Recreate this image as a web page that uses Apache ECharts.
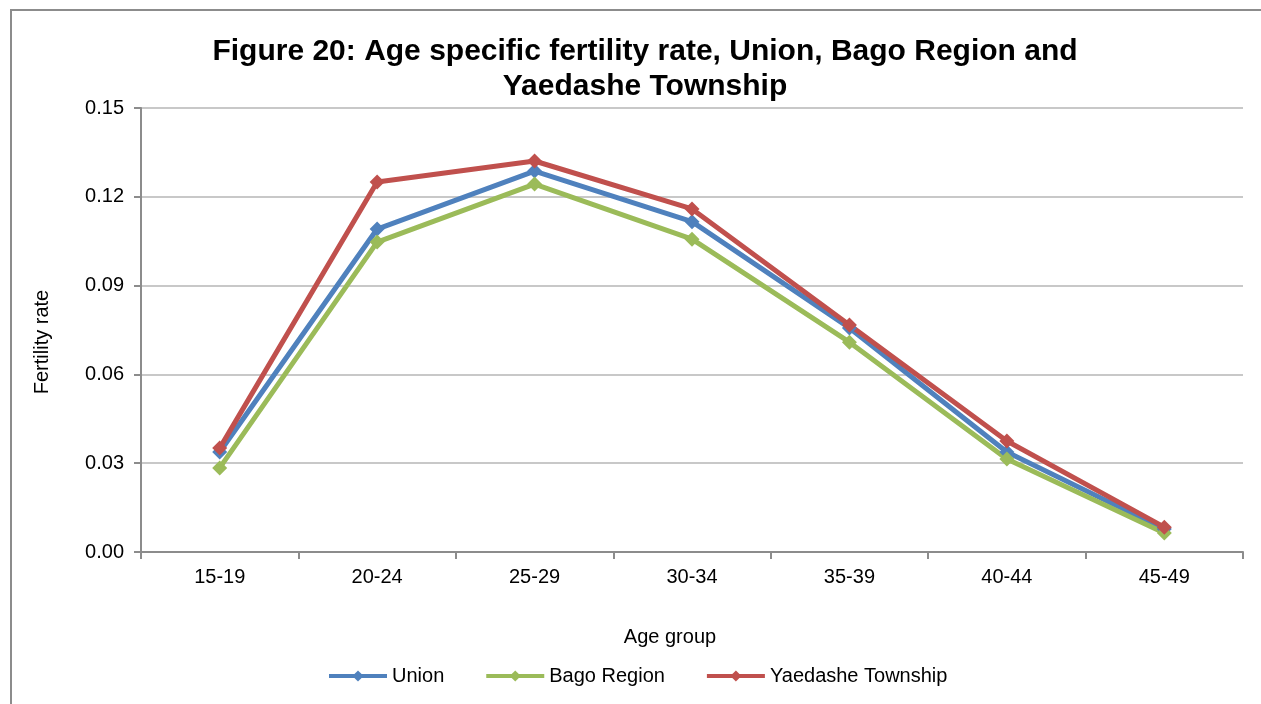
<!DOCTYPE html>
<html>
<head>
<meta charset="utf-8">
<script src="https://cdn.jsdelivr.net/npm/echarts@6/dist/echarts.min.js"></script>
<style>
html,body{margin:0;padding:0;background:#fff;}
#c{width:1261px;height:704px;}
</style>
</head>
<body>
<div id="c"></div>
<script>
const categories = ['15-19','20-24','25-29','30-34','35-39','40-44','45-49'];
const union = [0.0338, 0.1091, 0.1287, 0.1116, 0.0757, 0.0338, 0.0078];
const bago = [0.0284, 0.1047, 0.1243, 0.1057, 0.0709, 0.0314, 0.0064];
const yaedashe = [0.0351, 0.1250, 0.1321, 0.1159, 0.0767, 0.0375, 0.0084];
const yTicks = [0, 0.03, 0.06, 0.09, 0.12, 0.15];

const font = 'Liberation Sans, Arial, sans-serif';
const chart = echarts.init(document.getElementById('c'), null, {renderer:'canvas'});

function mk(name, data, color){
  return {
    name, type:'line', data,
    symbol:'diamond', symbolSize:15,
    lineStyle:{width:5,color},
    itemStyle:{color},
    emphasis:{disabled:true},
    animation:false
  };
}

chart.setOption({
  animation:false,
  backgroundColor:'#fff',
  graphic:[
    {type:'rect', shape:{x:11,y:10,width:1300,height:800},
     style:{fill:'none',stroke:'#8c8c8c',lineWidth:2}, silent:true, z:-1},
    {type:'text', x:42, y:342, rotation:Math.PI/2,
     style:{text:'Fertility rate', fill:'#000', font:'20px ' + font, textAlign:'center', textVerticalAlign:'middle'}},
    {type:'text', x:670, y:637,
     style:{text:'Age group', fill:'#000', font:'20px ' + font, textAlign:'center', textVerticalAlign:'middle'}}
  ],
  title:{
    text:'Figure 20: Age specific fertility rate, Union, Bago Region and\nYaedashe Township',
    left:640, top:29, textAlign:'center',
    textStyle:{fontFamily:font,fontWeight:'bold',fontSize:30,color:'#000',lineHeight:35}
  },
  legend:{
    data:['Union','Bago Region','Yaedashe Township'],
    left:322, top:661, itemWidth:58, itemHeight:14, itemGap:40,
    lineStyle:{width:4},
    textStyle:{fontFamily:font,fontSize:20,color:'#000'}
  },
  grid:{left:141,right:18,top:108,bottom:152,containLabel:false},
  xAxis:{
    type:'category', data:categories, boundaryGap:true,
    axisLine:{lineStyle:{color:'#8c8c8c',width:2}},
    axisTick:{show:true,alignWithLabel:false,length:7,lineStyle:{color:'#8c8c8c',width:2}},
    axisLabel:{fontFamily:font,fontSize:20,color:'#000',margin:15},
    splitLine:{show:false}
  },
  yAxis:{
    type:'value', min:0, max:0.15, interval:0.03,
    axisLine:{show:true,lineStyle:{color:'#8c8c8c',width:2}},
    axisTick:{show:true,length:7,lineStyle:{color:'#8c8c8c',width:2}},
    axisLabel:{fontFamily:font,fontSize:20,color:'#000',margin:17,
      formatter:v=>{const t=yTicks.find(x=>Math.abs(x-v)<1e-9);return (t!==undefined?t:v).toFixed(2);}},
    splitLine:{lineStyle:{color:'#c8c8c8',width:2}}
  },
  series:[
    mk('Union', union, '#4f81bd'),
    mk('Bago Region', bago, '#9bbb59'),
    mk('Yaedashe Township', yaedashe, '#c0504d')
  ]
});
</script>
</body>
</html>
